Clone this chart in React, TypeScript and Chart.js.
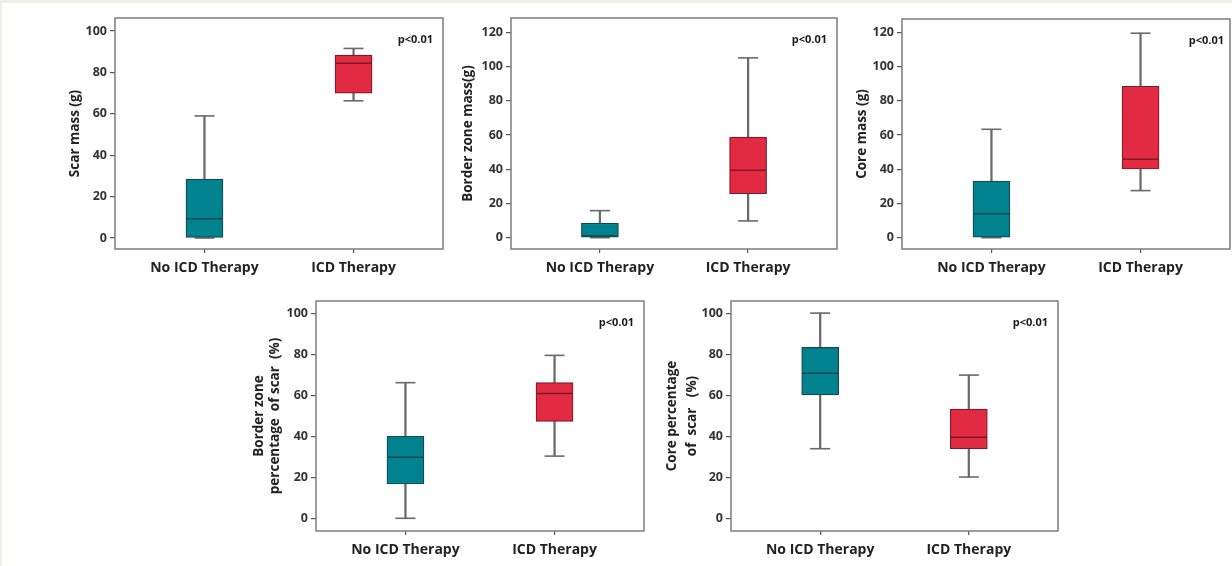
import React, { useEffect, useRef } from "react";
import { Chart, registerables } from "chart.js";

Chart.register(...registerables);

// ---------- data ----------
const categories = ["No ICD Therapy", "ICD Therapy"];
const pValueLabel = "p<0.01";
const ticks100 = [0, 20, 40, 60, 80, 100];
const ticks120 = [0, 20, 40, 60, 80, 100, 120];

// each group: [lower whisker, Q1, median, Q3, upper whisker]
const scarMassNoICD = [0, 0, 9.3, 28.5, 59];
const scarMassICD = [66.3, 70, 84.4, 88.4, 91.6];
const borderMassNoICD = [0, 0, 1, 8.4, 15.8];
const borderMassICD = [9.8, 25.7, 39.4, 58.8, 105];
const coreMassNoICD = [0, 0, 14, 33.1, 63.3];
const coreMassICD = [27.5, 40.1, 45.8, 88.4, 119.4];
const borderPctNoICD = [0, 16.7, 29.7, 40.0, 66.1];
const borderPctICD = [30.3, 47.2, 60.8, 66.1, 79.4];
const corePctNoICD = [33.9, 60.1, 70.7, 83.3, 100];
const corePctICD = [20.1, 33.9, 39.5, 53.2, 69.8];

// ---------- styles ----------
const FONT = "'Open Sans', 'Liberation Sans', sans-serif";
const TEAL = "#00838f";
const TEAL_DARK = "#17474c";
const RED = "#e22a43";
const RED_DARK = "#7d1a27";
const WHISKER = "#6a6a6a";
const FRAME = "#7c7c7c";
const AXIS_W = 110;
const XAXIS_H = 40;

type PanelProps = {
  frame: { L: number; T: number; R: number; B: number };
  yMin: number;
  yMax: number;
  yTicks: number[];
  title: string | string[];
  titleLH: number;
  titleDist: number;
  noICD: number[];
  icd: number[];
  pInset: number;
};

const framePlugin = {
  id: "frameAndP",
  afterDatasetsDraw(chart: any, _args: any, opts: any) {
    const { ctx, chartArea } = chart;
    ctx.save();
    ctx.strokeStyle = FRAME;
    ctx.lineWidth = 1.5;
    ctx.strokeRect(chartArea.left, chartArea.top, chartArea.right - chartArea.left, chartArea.bottom - chartArea.top);
    ctx.fillStyle = "#1a1a1a";
    ctx.font = `bold 11px ${FONT}`;
    ctx.textAlign = "right";
    ctx.textBaseline = "middle";
    ctx.fillText(opts.text, chartArea.right - opts.inset, chartArea.top + 22);
    ctx.restore();
  },
};

const zeroPadding = (s: any) => {
  s.paddingTop = 0;
  s.paddingBottom = 0;
  s.paddingLeft = 0;
  s.paddingRight = 0;
};

function Panel(p: PanelProps) {
  const ref = useRef<HTMLCanvasElement>(null);
  const { L, T, R, B } = p.frame;
  const padTop = 10;
  const padRight = 6;
  const left = L - AXIS_W;
  const top = T - padTop;
  const width = R - L + AXIS_W + padRight;
  const height = B - T + padTop + XAXIS_H;

  useEffect(() => {
    const groups = [p.noICD, p.icd];
    const titlePad = AXIS_W - p.titleDist - p.titleLH / 2;
    const chart = new Chart(ref.current as HTMLCanvasElement, {
      type: "bar",
      data: {
        datasets: [
          {
            type: "bar",
            label: "lower whisker",
            data: groups.map((g, i) => ({ x: i, y: [g[0], g[1]] })) as any,
            backgroundColor: WHISKER,
            barThickness: 1.6,
            grouped: false,
            order: 5,
          },
          {
            type: "bar",
            label: "upper whisker",
            data: groups.map((g, i) => ({ x: i, y: [g[3], g[4]] })) as any,
            backgroundColor: WHISKER,
            barThickness: 1.6,
            grouped: false,
            order: 5,
          },
          {
            type: "line",
            label: "caps",
            data: groups.flatMap((g, i) => [
              { x: i, y: g[0] },
              { x: i, y: g[4] },
            ]) as any,
            showLine: false,
            pointStyle: "line",
            pointRadius: 10,
            pointBorderColor: WHISKER,
            pointBorderWidth: 1.6,
            order: 4,
          } as any,
          {
            type: "bar",
            label: "box",
            data: groups.map((g, i) => ({ x: i, y: [g[1], g[3]] })) as any,
            backgroundColor: [TEAL, RED],
            borderColor: [TEAL_DARK, RED_DARK],
            borderWidth: 1.2,
            borderSkipped: false,
            barThickness: 37,
            grouped: false,
            order: 2,
          } as any,
          {
            type: "line",
            label: "median",
            data: groups.map((g, i) => ({ x: i, y: g[2] })) as any,
            showLine: false,
            pointStyle: "line",
            pointRadius: 18,
            pointBorderColor: [TEAL_DARK, RED_DARK],
            pointBorderWidth: 1.5,
            order: 1,
          } as any,
        ],
      },
      options: {
        animation: false,
        responsive: false,
        events: [],
        layout: { autoPadding: false, padding: { left: 0, top: padTop, right: padRight, bottom: 0 } },
        plugins: {
          legend: { display: false },
          tooltip: { enabled: false },
          frameAndP: { text: pValueLabel, inset: p.pInset },
        } as any,
        scales: {
          x: {
            type: "linear",
            min: -0.6,
            max: 1.6,
            offset: false,
            afterBuildTicks: (s: any) => {
              s.ticks = categories.map((_c, i) => ({ value: i }));
            },
            afterFit: (s: any) => {
              s.height = XAXIS_H;
              zeroPadding(s);
            },
            grid: { offset: false, drawOnChartArea: false, drawTicks: true, tickLength: 4, color: "#555", lineWidth: 1.2 },
            border: { display: false },
            ticks: {
              callback: (v: any) => categories[v] ?? "",
              padding: 7,
              color: "#222",
              autoSkip: false,
              maxRotation: 0,
              font: { family: FONT, size: 14, weight: "bold" },
            },
          },
          y: {
            type: "linear",
            min: p.yMin,
            max: p.yMax,
            afterBuildTicks: (s: any) => {
              s.ticks = p.yTicks.map((v) => ({ value: v }));
            },
            afterFit: (s: any) => {
              s.width = AXIS_W;
              zeroPadding(s);
            },
            grid: { drawOnChartArea: false, drawTicks: true, tickLength: 5, color: "#555", lineWidth: 1.2 },
            border: { display: false },
            ticks: {
              padding: 3,
              color: "#333",
              font: { family: FONT, size: 12.5, weight: "bold" },
            },
            title: {
              display: true,
              text: p.title,
              color: "#222",
              padding: { top: titlePad, bottom: 0 },
              font: { family: FONT, size: 13.5, weight: "bold", lineHeight: p.titleLH / 13.5 },
            },
          },
        } as any,
      },
      plugins: [framePlugin],
    });
    return () => chart.destroy();
  }, []);

  return (
    <canvas
      ref={ref}
      width={width}
      height={height}
      style={{ position: "absolute", left, top, width, height }}
    />
  );
}

export default function App() {
  return (
    <div
      style={{
        position: "absolute",
        left: 0,
        top: 0,
        width: 1232,
        height: 566,
        overflow: "hidden",
        background: "#f1efe5",
      }}
    >
      <div style={{ position: "absolute", left: 2, top: 3, right: 0, bottom: 0, background: "#ffffff" }} />
      <Panel
        frame={{ L: 115, T: 18, R: 443, B: 249 }}
        yMin={-5.3}
        yMax={106.3}
        yTicks={ticks100}
        title="Scar mass (g)"
        titleLH={16}
        titleDist={40}
        noICD={scarMassNoICD}
        icd={scarMassICD}
        pInset={10}
      />
      <Panel
        frame={{ L: 511, T: 18, R: 837, B: 249 }}
        yMin={-6.6}
        yMax={128.3}
        yTicks={ticks120}
        title="Border zone mass(g)"
        titleLH={16}
        titleDist={43}
        noICD={borderMassNoICD}
        icd={borderMassICD}
        pInset={10}
      />
      <Panel
        frame={{ L: 902, T: 19, R: 1230, B: 249 }}
        yMin={-6.6}
        yMax={127.7}
        yTicks={ticks120}
        title="Core mass (g)"
        titleLH={16}
        titleDist={40}
        noICD={coreMassNoICD}
        icd={coreMassICD}
        pInset={6}
      />
      <Panel
        frame={{ L: 316, T: 301, R: 644, B: 531 }}
        yMin={-6.2}
        yMax={105.9}
        yTicks={ticks100}
        title={["Border zone", "percentage  of scar  (%)"]}
        titleLH={16}
        titleDist={57}
        noICD={borderPctNoICD}
        icd={borderPctICD}
        pInset={10}
      />
      <Panel
        frame={{ L: 731, T: 301, R: 1058, B: 531 }}
        yMin={-6.2}
        yMax={105.9}
        yTicks={ticks100}
        title={["Core percentage", "of  scar   (%)"]}
        titleLH={20}
        titleDist={59}
        noICD={corePctNoICD}
        icd={corePctICD}
        pInset={10}
      />
    </div>
  );
}
